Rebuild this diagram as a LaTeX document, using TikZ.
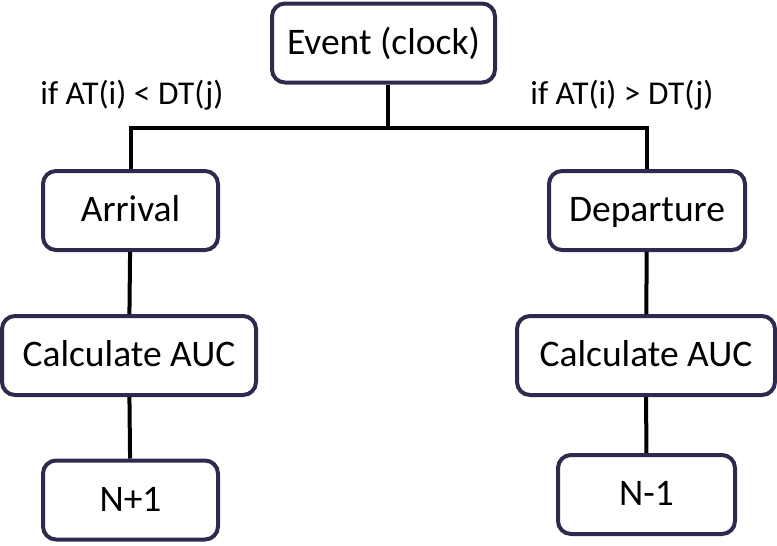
\documentclass[tikz,border=0pt]{standalone}
\usepackage{fontspec}
\setmainfont{Carlito}
\definecolor{boxline}{HTML}{2E2A4D}
\begin{document}
\begin{tikzpicture}[x=1pt, y=-1pt]

\tikzset{eventbox/.style={draw=boxline, line width=4pt, rounded corners=13pt, fill=white, inner sep=0pt, minimum height=79pt, text height=28pt, text depth=6pt, font=\fontsize{37.5}{42}\selectfont}}
\tikzset{wire/.style={draw=black, line width=4pt}}
\tikzset{cond/.style={font=\fontsize{33.3}{38}\selectfont}}

\useasboundingbox (0,0) rectangle (777,546);

% clock and the two conditions
\node[eventbox, minimum width=223pt] at (383.5, 43) (event) {Event (clock)};
\node[cond] at (132, 95) (condarr) {if AT(i) < DT(j)};
\node[cond] at (622, 95) (conddep) {if AT(i) > DT(j)};
\coordinate (split) at (388, 128);

% arrival branch
\node[eventbox, minimum width=175pt] at (130.5, 210.5) (arr) {Arrival};
\node[eventbox, minimum width=254pt] at (129, 355.5) (aucarr) {Calculate AUC};
\node[eventbox, minimum width=175pt] at (130.5, 500) (nplus) {N+1};

% departure branch
\node[eventbox, minimum width=196pt] at (647, 210.5) (dep) {Departure};
\node[eventbox, minimum width=258pt] at (646, 355.5) (aucdep) {Calculate AUC};
\node[eventbox, minimum width=177pt] at (646.5, 494.5) (nminus) {N-1};

% connections
\draw[wire] (event.south -| split) -- (split);
\draw[wire] (arr.north) |- (split) -| (dep.north);
\draw[wire] (arr) -- (aucarr);
\draw[wire] (aucarr) -- (nplus);
\draw[wire] (dep) -- (aucdep);
\draw[wire] (aucdep) -- (nminus);

\end{tikzpicture}
\end{document}
